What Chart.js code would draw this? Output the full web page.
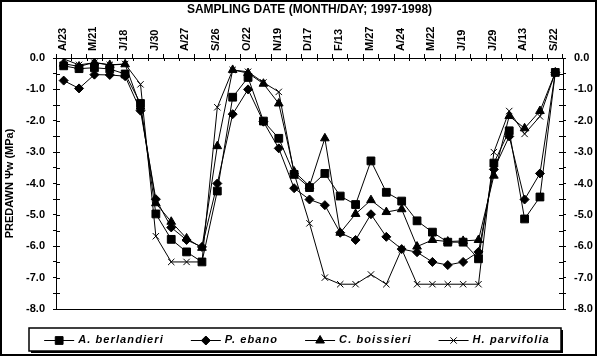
<!DOCTYPE html>
<html>
<head>
<meta charset="utf-8">
<script src="https://cdn.jsdelivr.net/npm/chart.js"></script>
<style>
html,body{margin:0;padding:0;background:#fff;}
canvas{display:block;}
</style>
</head>
<body>
<canvas id="c" width="597" height="356"></canvas>
<script>
// ---- data ----
const tickLabels = ['A/23','M/21','J/18','J/30','A/27','S/26','O/22','N/19','D/17','F/13','M/27','A/24','M/22','J/19','J/29','A/13','S/22'];
// 33 sampling dates, every second one labelled
const categories = [];
tickLabels.forEach((t, i) => { categories.push(t); if (i < tickLabels.length - 1) categories.push(''); });

const seriesNames = ['A. berlandieri', 'P. ebano', 'C. boissieri', 'H. parvifolia'];
const berlandieri = [-0.25,-0.34,-0.31,-0.35,-0.51,-1.45,-4.97,-5.78,-6.18,-6.50,-4.24,-1.25,-0.62,-2.01,-2.56,-3.71,-4.13,-3.68,-4.40,-4.67,-3.28,-4.28,-4.56,-5.19,-5.55,-5.87,-5.87,-6.40,-3.35,-2.32,-5.13,-4.43,-0.46];
const ebano       = [-0.72,-0.97,-0.53,-0.54,-0.58,-1.68,-4.50,-5.40,-5.80,-6.02,-4.00,-1.79,-1.00,-2.03,-2.88,-4.15,-4.51,-4.69,-5.57,-5.80,-4.98,-5.70,-6.09,-6.19,-6.50,-6.60,-6.50,-6.18,-3.55,-2.50,-4.51,-3.68,-0.46];
const boissieri   = [-0.18,-0.27,-0.14,-0.22,-0.20,-1.55,-4.63,-5.22,-5.75,-6.05,-2.81,-0.38,-0.48,-0.82,-1.45,-3.62,-4.08,-2.56,-5.57,-4.97,-4.53,-4.91,-4.82,-6.01,-5.80,-5.85,-5.83,-5.80,-3.75,-1.85,-2.24,-1.69,-0.46];
const parvifolia  = [-0.03,-0.22,-0.15,-0.22,-0.19,-0.84,-5.68,-6.50,-6.50,-6.50,-1.57,-0.38,-0.44,-0.78,-1.08,-3.68,-5.27,-7.00,-7.21,-7.21,-6.90,-7.21,-6.09,-7.21,-7.21,-7.21,-7.21,-7.21,-3.00,-1.69,-2.42,-1.86,-0.46];
const yMin = -8, yMax = 0, yStep = 0.5;

// ---- style ----
const FONT = '"Liberation Sans", Arial, sans-serif';
const styles = [
  {pointStyle: 'rect', radius: 5.5},
  {pointStyle: 'rectRot', radius: 4.5},
  {pointStyle: 'triangle', radius: 5},
  {pointStyle: 'crossRot', radius: 4.5}
];
const seriesData = [berlandieri, ebano, boissieri, parvifolia];

const datasets = seriesNames.map((name, i) => ({
  label: name,
  data: seriesData[i],
  borderColor: '#000',
  backgroundColor: '#000',
  borderWidth: 1,
  pointStyle: styles[i].pointStyle,
  pointRadius: styles[i].radius,
  pointBorderWidth: 1,
  pointBackgroundColor: '#000',
  pointBorderColor: '#000',
  tension: 0,
  fill: false
}));

const yTickCb = v => (Math.abs(v - Math.round(v)) < 1e-9 ? (Math.round(v) === 0 ? '0.0' : Math.round(v).toFixed(1)) : '');

function yAxis(position, width) {
  return {
    position,
    min: yMin, max: yMax,
    grid: {display: true, drawOnChartArea: false, drawTicks: true, tickLength: 3, color: '#000', lineWidth: 1},
    border: {display: true, color: '#000', width: 1},
    ticks: {stepSize: yStep, autoSkip: false, callback: yTickCb, padding: 8, color: '#000',
            font: {family: FONT, size: 11, weight: 'bold'}},
    title: position === 'left' ? {display: true, text: 'PREDAWN \u03A8w (MPa)', color: '#000',
            font: {family: FONT, size: 11, weight: 'bold'}, padding: {top: 3, bottom: 0}} : {display: false},
    afterFit: s => { s.width = width; }
  };
}

// inner halves of the crossing tick marks + bottom frame of plot
const framePlugin = {
  id: 'framePlugin',
  beforeDatasetsDraw(chart) {
    const {ctx, chartArea: a, scales} = chart;
    ctx.save();
    ctx.strokeStyle = '#000';
    ctx.lineWidth = 1;
    ctx.beginPath();
    const x = scales.x;
    for (let i = 0; i <= categories.length; i++) {
      const px = Math.round(x.getPixelForValue(i - 0.5)) + 0.5;
      ctx.moveTo(px, a.top); ctx.lineTo(px, a.top + 3);
    }
    for (let v = yMin; v <= yMax + 1e-9; v += yStep) {
      const py = Math.round(scales.y.getPixelForValue(v)) + 0.5;
      ctx.moveTo(a.left, py); ctx.lineTo(a.left + 4, py);
      ctx.moveTo(a.right, py); ctx.lineTo(a.right - 4, py);
    }
    const by = Math.round(a.bottom) + 0.5;
    ctx.moveTo(a.left, by); ctx.lineTo(a.right, by);
    ctx.stroke();
    ctx.restore();
  },
  afterDraw(chart) {
    const {ctx, width, height} = chart;
    ctx.save();
    // outer frame
    ctx.strokeStyle = '#000';
    ctx.lineWidth = 2;
    ctx.strokeRect(1, 1, width - 2, height - 2);

    // legend box
    const box = {left: 29, top: 328, right: 561, bottom: 351};
    ctx.fillStyle = '#000';
    ctx.fillRect(box.left + 2, box.top + 2, box.right - box.left, box.bottom - box.top);
    ctx.fillStyle = '#fff';
    ctx.fillRect(box.left, box.top, box.right - box.left, box.bottom - box.top);
    ctx.lineWidth = 1.5;
    ctx.strokeRect(box.left, box.top, box.right - box.left, box.bottom - box.top);

    ctx.font = 'italic bold 11px ' + FONT;
    if ('letterSpacing' in ctx) ctx.letterSpacing = '1.1px';
    const symW = 30, gapST = 4, gapItem = 27;
    const tw = seriesNames.map(n => ctx.measureText(n).width);
    const total = tw.reduce((s, w) => s + w + symW + gapST, 0) + gapItem * (seriesNames.length - 1);
    let cx = (box.left + box.right) / 2 - total / 2 + 2;
    const cy = (box.top + box.bottom) / 2 + 0.5;
    seriesNames.forEach((n, i) => {
      ctx.strokeStyle = '#000';
      ctx.fillStyle = '#000';
      ctx.lineWidth = 1;
      ctx.beginPath();
      ctx.moveTo(cx, Math.round(cy) + 0.5); ctx.lineTo(cx + symW, Math.round(cy) + 0.5);
      ctx.stroke();
      if (Chart.helpers && Chart.helpers.drawPoint) {
        Chart.helpers.drawPoint(ctx, {pointStyle: styles[i].pointStyle, radius: styles[i].radius, rotation: 0, borderWidth: 1}, cx + symW / 2, Math.round(cy) + 0.5);
      }
      ctx.fillStyle = '#000';
      ctx.textAlign = 'left';
      ctx.textBaseline = 'middle';
      ctx.fillText(n, cx + symW + gapST, cy);
      cx += symW + gapST + tw[i] + gapItem;
    });
    ctx.restore();
  }
};

new Chart(document.getElementById('c'), {
  type: 'line',
  data: {labels: categories, datasets},
  options: {
    responsive: false,
    animation: false,
    devicePixelRatio: 1,
    layout: {padding: {left: 0, right: 0, top: 0, bottom: 47}},
    plugins: {legend: {display: false}, tooltip: {enabled: false}},
    scales: {
      x: {
        type: 'category',
        position: 'top',
        offset: true,
        grid: {display: true, drawOnChartArea: false, drawTicks: true, tickLength: 4, offset: true, color: '#000', lineWidth: 1},
        border: {display: true, color: '#000', width: 1},
        ticks: {autoSkip: false, minRotation: 90, maxRotation: 90, padding: 3, labelOffset: 12, color: '#000',
                font: {family: FONT, size: 11, weight: 'bold'}},
        title: {display: true, text: 'SAMPLING DATE (MONTH/DAY; 1997-1998)', color: '#000',
                font: {family: FONT, size: 12, weight: 'bold'}, padding: {top: 2, bottom: 0}},
        afterFit: s => { s.height = 58; }
      },
      y: yAxis('left', 56),
      y2: yAxis('right', 34)
    }
  },
  plugins: [framePlugin]
});
</script>
</body>
</html>
